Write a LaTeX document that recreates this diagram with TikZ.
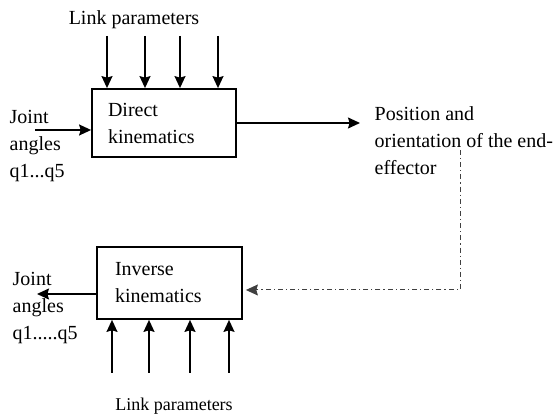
\documentclass[tikz,border=0pt]{standalone}
\usepackage{fontspec}
\setmainfont{Liberation Serif}
\usetikzlibrary{arrows,arrows.meta,positioning}

\begin{document}
\begin{tikzpicture}[x=0.5pt,y=-0.5pt,->,>={Stealth[length=6pt,width=5.5pt,inset=0.8pt]},line width=0.7pt,
  kinbox/.style={draw,line width=0.9pt,align=left,inner ysep=0pt,font=\fontsize{10}{13.5}\selectfont},
  lbl/.style={inner sep=0pt,align=left,font=\fontsize{10}{13.5}\selectfont},
  fbline/.style={line width=0.5pt,draw=black!75,dash pattern=on 2.5pt off 1.5pt on 0.6pt off 1.5pt}]
  \useasboundingbox (0,0) rectangle (557,415);
  \node (DK) [kinbox,text width=56pt,inner xsep=8pt,minimum height=34pt] at (164,123) {Direct\\kinematics};
  \node (IK) [kinbox,text width=54.5pt,inner xsep=9pt,minimum height=36pt] at (169.5,283) {Inverse\\kinematics};
  \node (lpt) [lbl] at (134,20) {Link parameters};
  \node (lpb) [lbl,font=\fontsize{9}{12}\selectfont] at (174,406) {Link parameters};
  \node (jat) [lbl,anchor=west] at (9,146.5) {Joint\\angles\\q1...q5};
  \node (jab) [lbl,anchor=west] at (12,308.5) {Joint\\angles\\q1.....q5};
  \node (pos) [lbl,anchor=west] at (374,140.5) {Position and\\orientation of the end-\\effector};
  % link parameters
  \foreach \x [count=\i] in {107,145,180,218} {
    \coordinate (lp\i) at (\x,36);
    \draw (lp\i) -- (lp\i |- DK.north);
  }
  \foreach \x [count=\i] in {112,149,190,229} {
    \coordinate (lq\i) at (\x,373);
    \draw (lq\i) -- (lq\i |- IK.south);
  }
  % joint angles
  \coordinate (jin) at (35,130);
  \draw (jin) -- (jin -| DK.west);
  \coordinate (jout) at (37,294);
  \draw (jout -| IK.west) -- (jout);
  % end-effector
  \draw (DK.east) -- ([xshift=-7pt]DK.east -| pos.west);
  \coordinate (fb) at (460,150);
  \draw[fbline] (fb) |- ([shift={(1.5pt,-3.5pt)}]IK.east);
\end{tikzpicture}
\end{document}
